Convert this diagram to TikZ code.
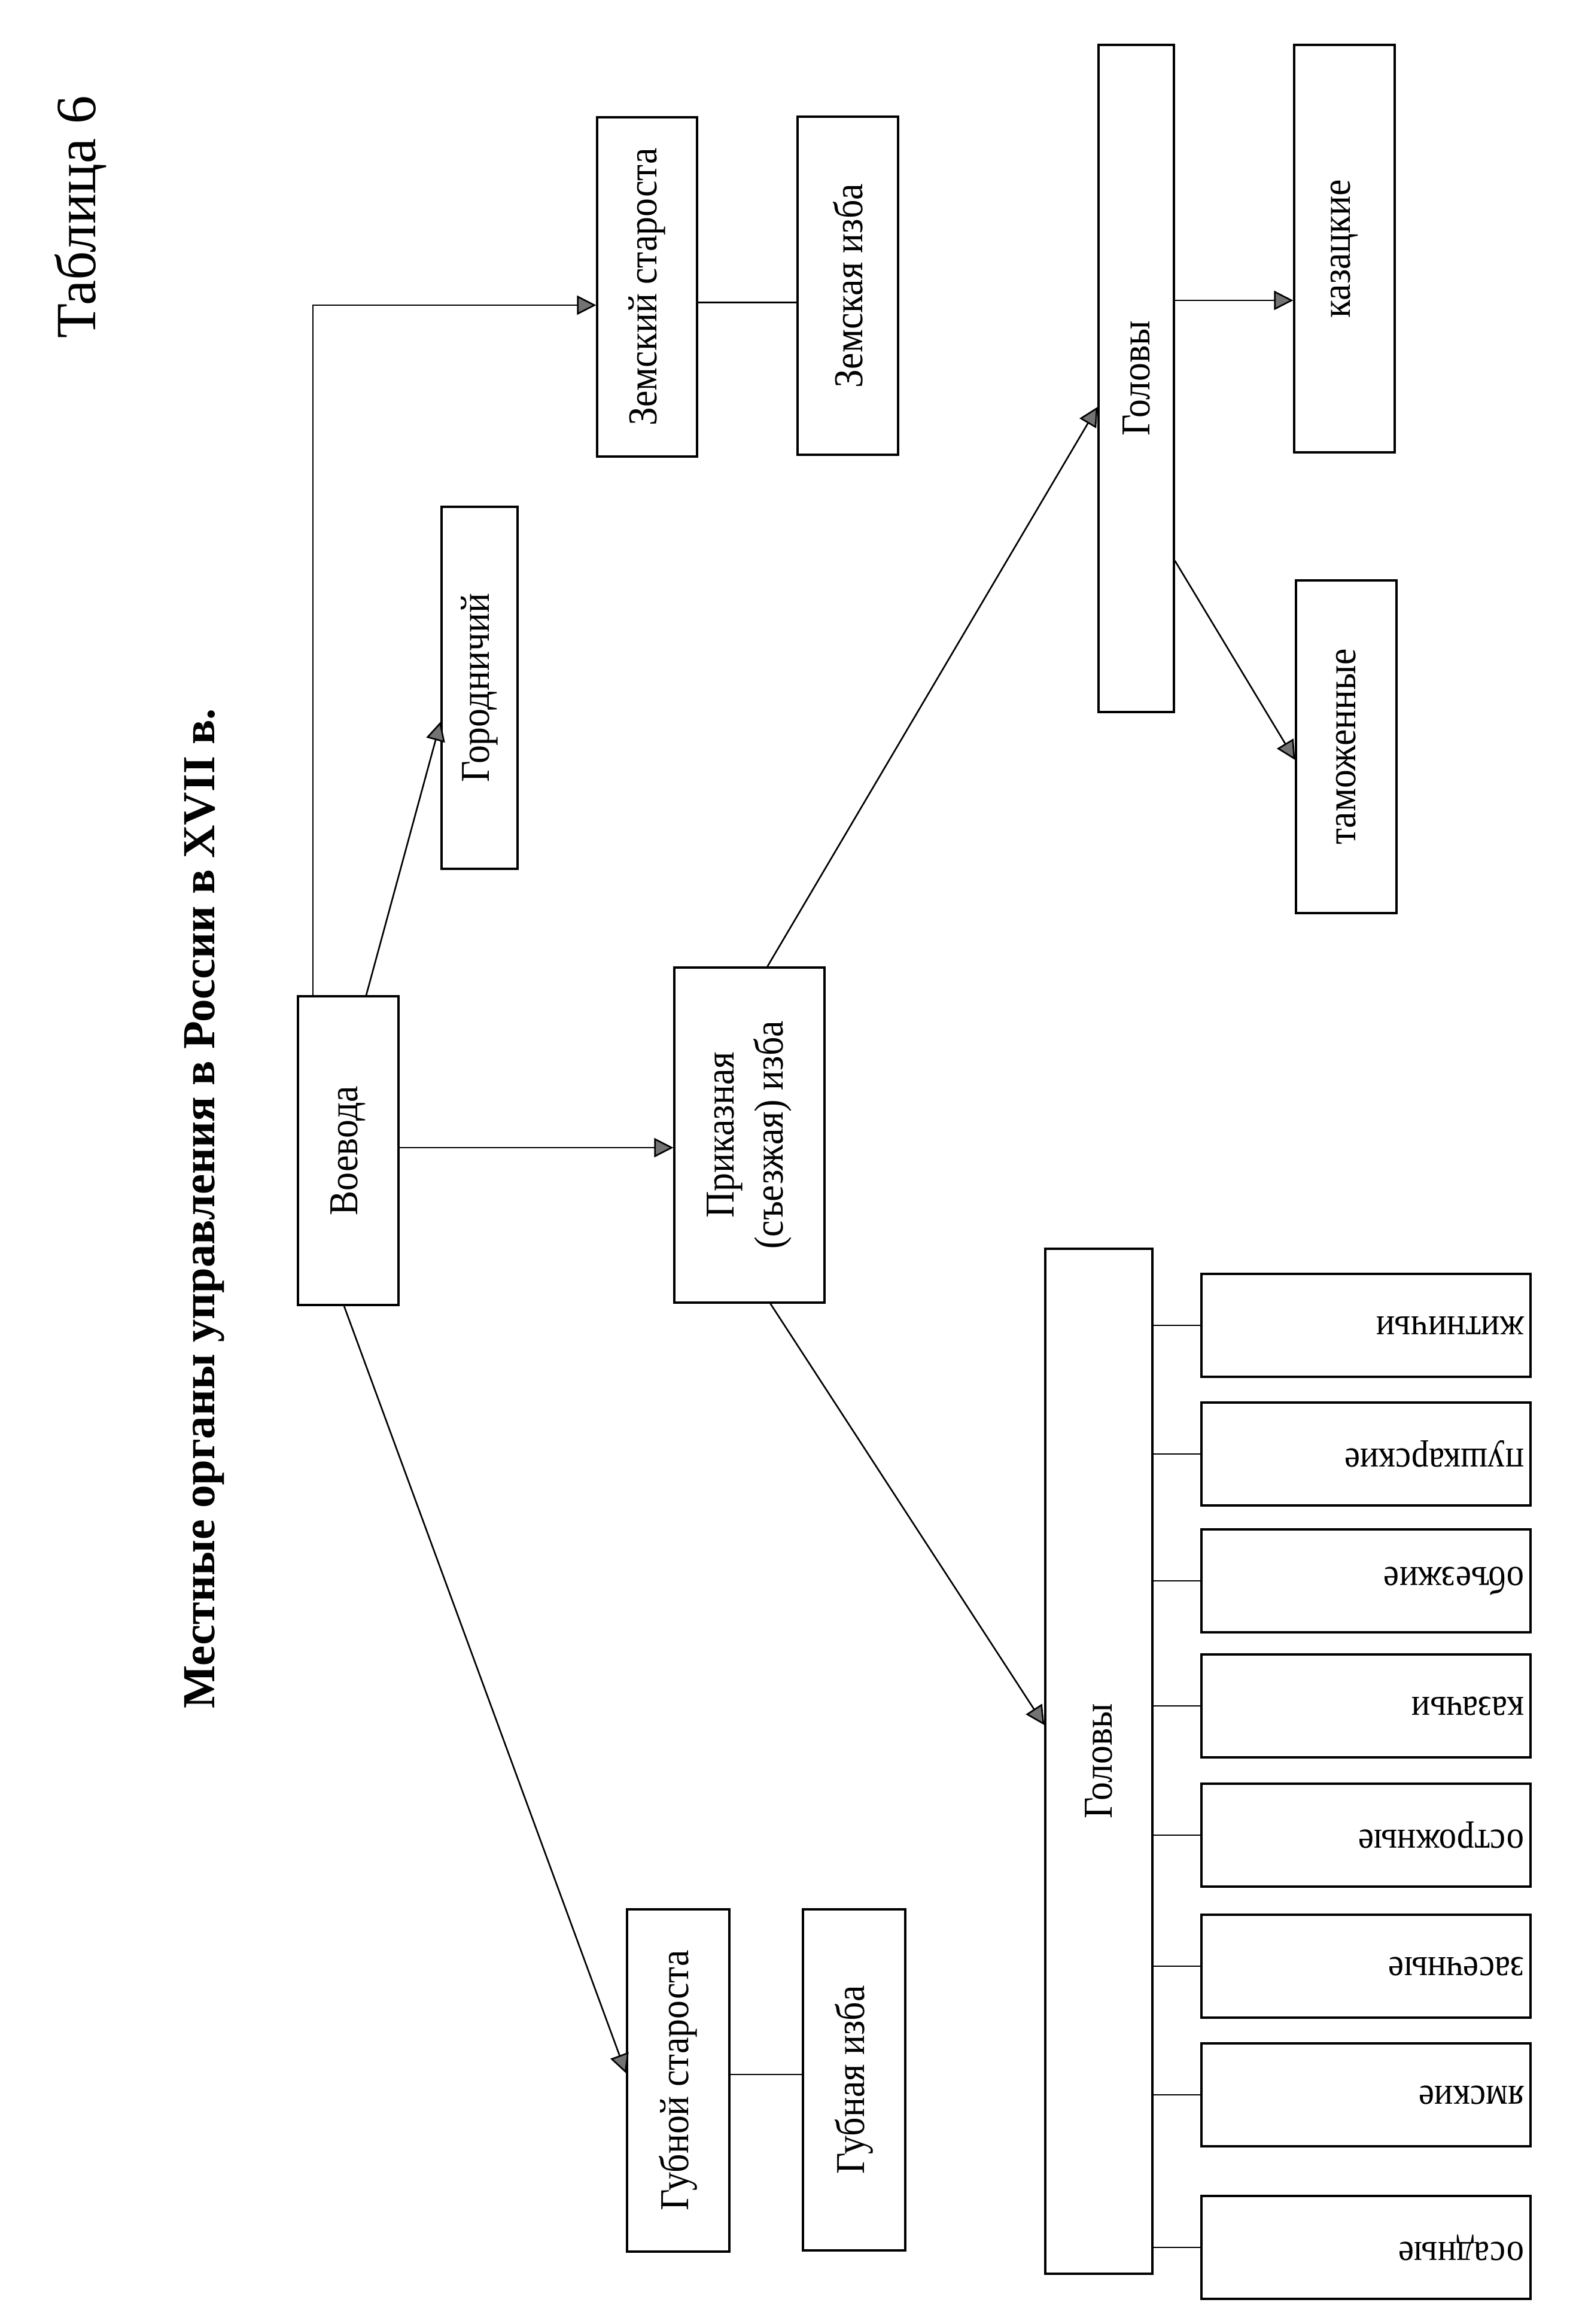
\documentclass[tikz,border=0pt]{standalone}
\usepackage{fontspec}
\setmainfont{Liberation Serif}
\newfontfamily\narrowserif[FakeStretch=0.9]{Liberation Serif}
\usetikzlibrary{arrows.meta,positioning,calc}

\begin{document}
\begin{tikzpicture}[
 box/.style={draw,line width=0.9pt,inner sep=0pt},
 vlab/.style={rotate=90,align=center,font=\narrowserif\fontsize{19.5}{23.5}\selectfont},
 post/.style={box,minimum width=55mm,minimum height=17.2mm,label distance=-2.5mm},
 flab/.style={rotate=180,anchor=west,font=\narrowserif\fontsize{18.5}{22}\selectfont},
 arr/.style={-{Triangle[length=3.2mm,width=3.2mm,fill=black!55]},line width=0.75pt},
 link/.style={line width=0.75pt}
]
\useasboundingbox (0,0) rectangle (26.29,-38.84);
\node[rotate=90,font=\fontsize{27}{32}\selectfont] (tabnum) at (1.35,-3.63) {Таблица 6};
\node[rotate=90,font=\bfseries\fontsize{21.8}{26}\selectfont] (title) at (3.42,-20.2) {Местные органы управления в России в XVII в.};
% left part
\node[box,minimum width=16.8mm,minimum height=51.6mm,label={[vlab]center:Воевода}] (voevoda) at (5.82,-19.23) {};
\node[box,minimum width=12.7mm,minimum height=60.5mm,label={[vlab]center:Городничий}] (gorod) at (8.015,-11.495) {};
\node[box,minimum width=16.7mm,minimum height=56.7mm,label={[vlab]center:Земский староста}] (zemstar) at (10.815,-4.795) {};
\node[box,minimum width=16.8mm,minimum height=56.5mm,label={[vlab]center:Земская изба}] (zemizba) at (14.17,-4.775) {};
\node[box,minimum width=25.1mm,minimum height=56mm,label={[vlab]center:Приказная\\(съезжая) изба}] (prikaz) at (12.525,-18.97) {};
\node[box,minimum width=17.1mm,minimum height=57.2mm,label={[vlab]center:Губной староста}] (gubstar) at (11.335,-34.77) {};
\node[box,minimum width=17.1mm,minimum height=57mm,label={[vlab]center:Губная изба}] (gubizba) at (14.275,-34.76) {};
% right part
\node[box,minimum width=12.6mm,minimum height=111.5mm,label={[vlab]center:Головы}] (golovya) at (18.99,-6.325) {};
\node[box,minimum width=16.8mm,minimum height=68.1mm,label={[vlab]center:казацкие}] (kazack) at (22.47,-4.155) {};
\node[box,minimum width=16.8mm,minimum height=55.6mm,label={[vlab]center:таможенные}] (tamozh) at (22.5,-12.48) {};
\node[box,minimum width=17.9mm,minimum height=171.3mm,label={[vlab]center:Головы}] (golovyb) at (18.365,-29.435) {};
\foreach \name/\yy [count=\i] in {житничьи/-22.15,пушкарские/-24.30,объезжие/-26.42,казачьи/-28.51,острожные/-30.67,засечные/-32.86,ямские/-35.01,осадные/-37.56} {
 \node[post,label={[flab]east:\name}] (post\i) at (22.83,\yy) {};
 \draw[link] (golovyb.east |- post\i.west) -- (post\i.west);
}
% arrows
\draw[arr] ([xshift=-5.9mm]voevoda.north) |- ([yshift=-3.05mm]zemstar.west);
\draw[link] ([yshift=-2.6mm]zemstar.east) -- ([yshift=-2.6mm]zemstar.east -| zemizba.west);
\draw[arr] ([xshift=3mm]voevoda.north) -- ([yshift=-5.65mm]gorod.west);
\draw[arr] ([yshift=0.5mm]voevoda.east) -- ([yshift=0.5mm]voevoda.east -| prikaz.west);
\draw[arr] ([xshift=-0.7mm]voevoda.south) -- ([yshift=1.2mm]gubstar.west);
\draw[link] ([yshift=1mm]gubstar.east) -- ([yshift=1mm]gubstar.east -| gubizba.west);
\draw[arr] ([xshift=3mm]prikaz.north) -- ([yshift=-4.75mm]golovya.west);
\draw[arr] ([xshift=3.5mm]prikaz.south) -- ([yshift=6.05mm]golovyb.west);
\draw[arr] ([yshift=-8.65mm]kazack.west -| golovya.east) -- ([yshift=-8.65mm]kazack.west);
\draw[arr] ([yshift=-30.45mm]golovya.east) -- ([yshift=-2.2mm]tamozh.west);
\end{tikzpicture}
\end{document}
